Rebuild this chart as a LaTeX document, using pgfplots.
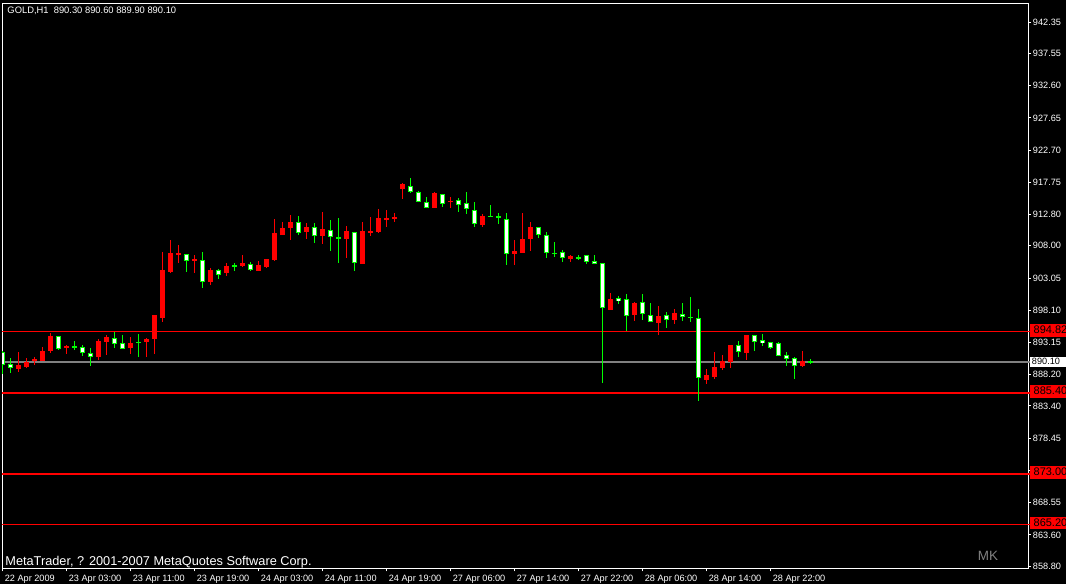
\documentclass[border=0pt]{standalone}
\usepackage{fontspec}
\setmainfont{Liberation Sans}
\usepackage{pgfplots}
\usepackage{pgfplotstable}
\pgfplotsset{compat=1.18}
\definecolor{mtred}{RGB}{255,0,0}
\definecolor{mtgreen}{RGB}{0,255,0}
\definecolor{mtgray}{RGB}{128,128,128}

% bullish candles (close > open): red
\pgfplotstableread{
x o h l c
2 889.10 891.66 888.64 889.67
3 889.41 890.74 889.21 890.13
4 890.33 890.90 889.71 890.64
5 890.33 892.43 890.33 891.82
6 891.86 894.58 891.56 894.12
8 892.33 892.79 891.40 892.59
12 890.94 893.66 890.48 893.35
13 893.25 894.28 891.25 893.97
16 892.33 893.97 891.40 893.05
18 893.25 893.82 890.94 893.66
19 893.71 897.35 891.36 897.35
20 896.93 907.02 896.32 904.26
21 903.95 908.87 903.80 906.87
22 906.61 908.10 905.33 906.87
24 905.69 906.56 903.85 905.95
26 902.46 904.57 902.00 904.26
28 903.85 905.33 903.38 904.87
30 904.87 906.56 904.72 905.33
32 904.15 905.69 904.15 905.03
33 904.77 905.95 904.61 905.95
34 905.75 912.09 905.60 909.94
35 909.68 911.63 909.68 910.71
36 910.76 912.71 908.91 911.63
38 910.14 911.48 909.02 910.86
40 909.53 913.17 908.30 910.56
43 909.07 911.02 906.10 910.25
45 905.18 911.63 905.18 910.25
46 910.10 912.40 909.53 910.25
47 910.10 913.63 909.94 912.25
48 912.14 913.47 910.86 912.25
49 912.09 913.01 911.63 912.40
50 916.75 917.62 915.21 917.47
54 913.83 916.24 913.83 916.09
56 914.75 915.47 913.83 914.90
60 911.22 912.86 910.91 912.55
64 906.76 908.87 905.07 907.18
65 906.92 913.01 906.92 909.02
66 909.07 911.63 907.22 910.86
71 905.99 906.61 905.44 906.46
76 898.12 900.73 898.12 899.81
79 897.39 899.34 896.43 899.24
82 896.17 898.73 894.32 897.19
84 896.58 898.27 895.97 897.66
88 887.36 889.05 886.75 888.13
89 887.83 891.66 887.52 889.36
90 889.21 891.20 888.90 890.28
91 890.13 892.74 889.21 892.74
93 891.51 894.28 890.44 894.28
100 889.52 891.82 889.36 890.28
}\bull

% bearish candles and dojis: white body, green outline
\pgfplotstableread{
x o h l c
0 891.66 891.82 888.24 889.67
1 889.82 890.74 888.49 889.25
7 894.23 894.23 891.93 892.23
9 892.69 893.35 892.02 892.39
10 892.54 892.74 891.10 891.62
11 891.51 892.28 889.56 890.94
14 893.92 894.74 892.33 892.94
15 893.16 894.28 892.23 892.23
17 893.16 894.43 890.94 893.16
23 906.82 906.82 904.00 905.60
25 905.90 907.02 901.54 902.52
27 904.26 904.41 902.92 903.60
29 904.92 905.33 904.15 904.92
31 905.29 905.49 904.15 904.31
37 911.63 912.55 909.64 909.99
39 910.86 911.48 908.45 909.53
41 910.51 911.94 907.18 909.37
42 909.28 912.25 905.33 909.28
44 910.10 910.10 904.15 905.38
51 917.16 918.39 916.13 916.29
52 916.24 916.39 914.75 914.75
53 914.81 915.47 913.83 913.83
55 915.93 915.93 913.98 914.44
57 915.01 915.32 913.21 914.29
58 914.55 916.24 912.91 913.67
59 913.58 914.70 910.91 911.37
61 912.51 914.24 912.51 912.51
62 912.45 913.01 911.32 912.45
63 912.20 913.01 905.07 906.76
67 910.82 910.82 909.22 909.68
68 909.64 910.10 906.15 906.92
69 906.87 908.61 906.30 906.87
70 907.02 907.33 905.53 906.21
72 906.21 906.56 905.84 906.21
73 906.52 906.56 905.23 905.44
74 905.64 906.56 905.23 905.26
75 905.44 905.44 886.90 898.38
77 899.96 900.27 899.08 899.54
78 899.76 900.57 894.89 897.24
80 899.30 900.57 896.58 897.46
81 897.35 899.19 896.32 896.32
83 897.35 897.81 895.35 896.63
85 897.61 899.19 896.43 897.09
86 896.99 900.11 896.27 896.99
87 896.99 898.27 884.14 887.63
92 892.74 893.35 890.90 891.66
94 894.28 894.28 891.82 893.25
95 893.51 894.43 892.59 893.00
96 893.16 893.16 892.13 892.28
97 893.05 893.20 891.10 891.10
98 891.31 891.66 889.52 890.64
99 890.74 890.90 887.52 889.56
101 890.30 890.60 889.90 890.10
}\bear

\begin{document}
\begin{tikzpicture}[x=1bp,y=1bp]
\fill[black] (0,0) rectangle (1066,584);
\begin{axis}[
  at={(2.7,23.9)}, anchor=south west,
  width=1026bp, height=565.3bp, scale only axis,
  xmin=-0.1, xmax=128.15, ymin=858.45, ymax=945.27,
  clip mode=individual,
  axis line style={white, line width=1bp},
  tick style={white, line width=1bp},
  major tick length=3bp, tick align=outside,
  xtick pos=left, ytick pos=right, yticklabel pos=right,
  xtick={0,8,16,24,32,40,48,56,64,72,80,88,96},
  xticklabels={22 Apr 2009, 23 Apr 03:00, 23 Apr 11:00, 23 Apr 19:00, 24 Apr 03:00, 24 Apr 11:00, 24 Apr 19:00, 27 Apr 06:00, 27 Apr 14:00, 27 Apr 22:00, 28 Apr 06:00, 28 Apr 14:00, 28 Apr 22:00},
  ytick={942.35,937.55,932.60,927.65,922.70,917.75,912.80,908.00,903.05,898.10,893.15,888.20,883.40,878.45,873.50,868.55,863.60,858.80},
  yticklabels={942.35,937.55,932.60,927.65,922.70,917.75,912.80,908.00,903.05,898.10,893.15,888.20,883.40,878.45,,868.55,863.60,858.80},
  ticklabel style={text=white, font=\fontsize{9.2}{10}\selectfont, inner sep=0pt},
  xticklabel style={anchor=north west, xshift=1.7bp, yshift=-3bp},
  yticklabel style={anchor=west, xshift=1.6bp},
]
% horizontal levels
\addplot[mtred, line width=1.7bp, forget plot] coordinates {(-0.1,894.82) (128.15,894.82)};
\addplot[mtred, line width=1.7bp, forget plot] coordinates {(-0.1,885.40) (128.15,885.40)};
\addplot[mtred, line width=1.7bp, forget plot] coordinates {(-0.1,873.00) (128.15,873.00)};
\addplot[mtred, line width=1.7bp, forget plot] coordinates {(-0.1,865.20) (128.15,865.20)};
\addplot[mtgray, line width=1.7bp, forget plot] coordinates {(-0.1,890.10) (128.15,890.10)};
% wicks
\addplot[forget plot, draw=none, mark=none,
  error bars/.cd, y dir=both, y explicit, error mark=none,
  error bar style={draw=mtred, line width=1bp, solid}]
  table[x=x, y expr={(\thisrow{h}+\thisrow{l})/2}, y error expr={(\thisrow{h}-\thisrow{l})/2}] {\bull};
\addplot[forget plot, draw=none, mark=none,
  error bars/.cd, y dir=both, y explicit, error mark=none,
  error bar style={draw=mtgreen, line width=1bp, solid}]
  table[x=x, y expr={(\thisrow{h}+\thisrow{l})/2}, y error expr={(\thisrow{h}-\thisrow{l})/2}] {\bear};
% bodies
\addplot[forget plot, draw=none, mark=none,
  error bars/.cd, y dir=both, y explicit, error mark=none,
  error bar style={draw=mtred, line width=5bp, solid}]
  table[x=x, y expr={(\thisrow{o}+\thisrow{c})/2}, y error expr={max(abs(\thisrow{c}-\thisrow{o})/2,0.077)}] {\bull};
\addplot[forget plot, draw=none, mark=none,
  error bars/.cd, y dir=both, y explicit, error mark=none,
  error bar style={draw=mtgreen, line width=5bp, solid}]
  table[x=x, y expr={(\thisrow{o}+\thisrow{c})/2}, y error expr={max(abs(\thisrow{c}-\thisrow{o})/2,0.077)}] {\bear};
\addplot[forget plot, draw=none, mark=none,
  error bars/.cd, y dir=both, y explicit, error mark=none,
  error bar style={draw=white, line width=3bp, solid}]
  table[x=x, y expr={(\thisrow{o}+\thisrow{c})/2}, y error expr={max(abs(\thisrow{c}-\thisrow{o})/2-0.1536,0)}] {\bear};
\coordinate (lvA) at (axis cs:128.15,894.82);
\coordinate (lvB) at (axis cs:128.15,890.10);
\coordinate (lvC) at (axis cs:128.15,885.40);
\coordinate (lvD) at (axis cs:128.15,873.00);
\coordinate (lvE) at (axis cs:128.15,865.20);
\end{axis}
% price level labels on the scale
\foreach \nm/\lab in {lvA/894.82, lvC/885.40, lvD/873.00, lvE/865.20}{
  \draw[mtred, line width=1.7bp] (\nm) -- ([shift={(3,0)}]\nm);
  \fill[mtred] ([shift={(2.3,-5)}]\nm) rectangle ([shift={(40,7.5)}]\nm);
  \node[anchor=west, inner sep=0pt, text=black, font=\fontsize{11}{12}\selectfont] at ([shift={(5.3,2)}]\nm) {\lab};
}
\draw[mtgray, line width=1.7bp] (lvB) -- ([shift={(3,0)}]lvB);
\fill[white] ([shift={(2.3,-4.4)}]lvB) rectangle ([shift={(40,5.6)}]lvB);
\node[anchor=west, inner sep=0pt, text=black, font=\fontsize{9.2}{10}\selectfont] at ([shift={(3.6,0.8)}]lvB) {890.10};
% texts
\node[anchor=base west, inner sep=0pt, text=white, font=\fontsize{9.4}{11}\selectfont] at (7.3,570) {GOLD,H1\ \ 890.30 890.60 889.90 890.10};
\node[anchor=base west, inner sep=0pt, text=white, font=\fontsize{12.8}{14}\selectfont] at (5.2,18.5) {MetaTrader, ? 2001-2007 MetaQuotes Software Corp.};
\node[anchor=base west, inner sep=0pt, text=mtgray, font=\fontsize{13.5}{15}\selectfont] at (977.7,23.3) {MK};
\pgfresetboundingbox
\path[use as bounding box] (0,0) rectangle (1066,584);
\end{tikzpicture}
\end{document}
